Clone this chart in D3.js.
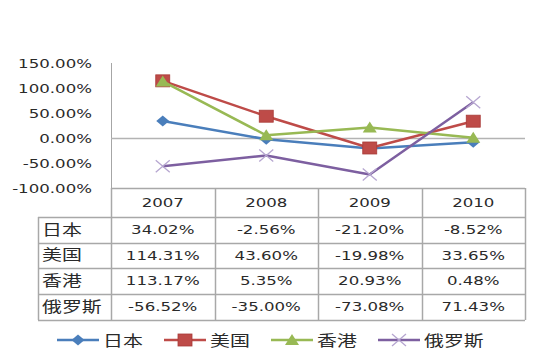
<!DOCTYPE html>
<html><head><meta charset="utf-8">
<script src="https://cdn.jsdelivr.net/npm/d3@7"></script>
<style>body{margin:0;background:#fff}</style>
</head><body>
<script>
const years = ["2007","2008","2009","2010"];
const seriesNames = ["日本","美国","香港","俄罗斯"];
const japan = [34.02,-2.56,-21.20,-8.52];
const usa = [114.31,43.60,-19.98,33.65];
const hongkong = [113.17,5.35,20.93,0.48];
const russia = [-56.52,-35.00,-73.08,71.43];
const yTicks = [-100,-50,0,50,100,150];
const colors = ["#4A7EBB","#BE4B48","#98B954","#7D5FA0"];
const symbols = ["diamond","square","triangle","x"];
const seriesData = [japan,usa,hongkong,russia];

(function(){
const W=542,H=354;
const svg=d3.select("body").append("svg").attr("width",W).attr("height",H);
const font="DejaVu Sans, 'Noto Sans CJK SC', sans-serif";
const SX=1.33;
const loc=d3.formatLocale({decimal:".",thousands:",",grouping:[3],currency:["",""],minus:"-"});
const fmt=v=>loc.format(".2f")(v)+"%";

const pL=111,pR=525,pT=63,pB=188;
const x=d3.scaleBand().domain(years).range([pL,pR]);
const y=d3.scaleLinear().domain([-100,150]).range([pB,pT]);

function txt(g,xx,yy,s,anchor,size){
  return g.append("text").attr("transform",`translate(${xx},${yy}) scale(${SX},1)`)
   .attr("text-anchor",anchor).attr("font-family",font).attr("font-size",size)
   .attr("fill","#2a2a2a").text(s);
}

yTicks.forEach(t=>{ txt(svg,92,y(t)+5,fmt(t),"end",12.5); });
svg.append("line").attr("x1",pL+0.5).attr("x2",pL+0.5).attr("y1",pT).attr("y2",pB).attr("stroke","#a6a6a6");
svg.append("line").attr("x1",pL).attr("x2",pR).attr("y1",y(0)+0.5).attr("y2",y(0)+0.5).attr("stroke","#b3b3b3").attr("stroke-width",1.5);

const rowH=[29,25.5,25.5,25.5,26.5];
const rowsY=[pB];
rowH.forEach(h=>rowsY.push(rowsY[rowsY.length-1]+h));
const tbl=svg.append("g");
const lc="#a8a8a8";
const labelLeft=38;
rowsY.forEach((yy,i)=>{
  tbl.append("line").attr("x1",i===0?pL:labelLeft).attr("x2",pR)
   .attr("y1",Math.round(yy)+0.5).attr("y2",Math.round(yy)+0.5).attr("stroke",lc).attr("stroke-width",1.5);
});
const colX=[pL].concat(years.map(yr=>x(yr)+x.bandwidth()));
colX.forEach(cx=>{
  tbl.append("line").attr("x1",Math.round(cx)+0.5).attr("x2",Math.round(cx)+0.5)
   .attr("y1",pB).attr("y2",rowsY[5]).attr("stroke",lc).attr("stroke-width",1.5);
});
tbl.append("line").attr("x1",labelLeft+0.5).attr("x2",labelLeft+0.5)
  .attr("y1",rowsY[1]).attr("y2",rowsY[5]).attr("stroke",lc).attr("stroke-width",1.5);
years.forEach(yr=>txt(tbl,x(yr)+x.bandwidth()/2,pB+19,yr,"middle",12.5));
seriesNames.forEach((n,i)=>{
  const cy=(rowsY[i+1]+rowsY[i+2])/2+4.5;
  txt(tbl,labelLeft+4,cy+0.5,n,"start",15);
  seriesData[i].forEach((v,j)=>{
    txt(tbl,x(years[j])+x.bandwidth()/2,cy,fmt(v),"middle",12.5);
  });
});

function marker(g,type,cx,cy,color){
  if(type==="diamond"){
    g.append("path").attr("d",`M${cx},${cy-5.5}L${cx+6.5},${cy}L${cx},${cy+5.5}L${cx-6.5},${cy}Z`).attr("fill",color);
  } else if(type==="square"){
    g.append("rect").attr("x",cx-7).attr("y",cy-6).attr("width",14).attr("height",12).attr("fill",color).attr("stroke","#A83B38").attr("stroke-width",0.8);
  } else if(type==="triangle"){
    g.append("path").attr("d",`M${cx},${cy-6}L${cx+7},${cy+5}L${cx-7},${cy+5}Z`).attr("fill",color);
  } else {
    g.append("path").attr("d",`M${cx-7},${cy-6}L${cx+7},${cy+6}M${cx-7},${cy+6}L${cx+7},${cy-6}`).attr("stroke","#B6A6D0").attr("stroke-width",1.3).attr("fill","none");
  }
}
const line=d3.line().x((d,i)=>x(years[i])+x.bandwidth()/2).y(d=>y(d));
seriesData.forEach((s,i)=>{
  const g=svg.append("g");
  g.append("path").attr("d",line(s)).attr("fill","none").attr("stroke",colors[i]).attr("stroke-width",2.5).attr("stroke-linejoin","round");
  s.forEach((v,j)=>marker(g,symbols[i],x(years[j])+x.bandwidth()/2,y(v),colors[i]));
});

const legX=[57,164,271,378];
seriesNames.forEach((n,i)=>{
  const g=svg.append("g");
  const ly=340;
  g.append("line").attr("x1",legX[i]).attr("x2",legX[i]+42).attr("y1",ly).attr("y2",ly).attr("stroke",colors[i]).attr("stroke-width",2.5);
  marker(g,symbols[i],legX[i]+21,ly,colors[i]);
  txt(g,legX[i]+46,ly+5.5,n,"start",15);
});
})();
</script>
</body></html>
